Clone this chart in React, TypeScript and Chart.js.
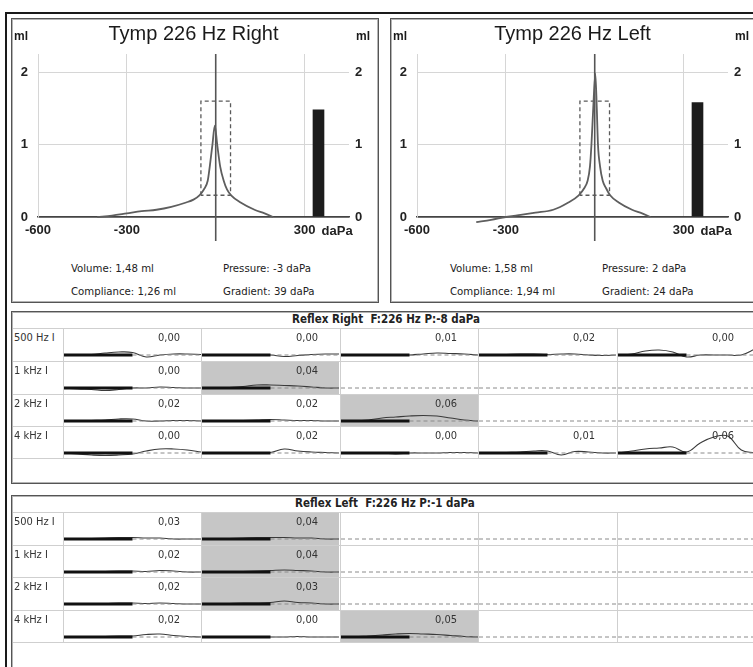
import React, { useEffect, useRef } from 'react';
import { Chart, registerables } from 'chart.js';

Chart.register(...registerables);

const FONT_COND = '"DejaVu Sans Condensed", "DejaVu Sans", sans-serif';
const FONT_ARIAL = '"Liberation Sans", Arial, sans-serif';

// ---------- Tympanogram data ----------
const PRESSURE_TICKS = [-600, -300, 0, 300];
const ML_TICKS = [0, 1, 2];

const RIGHT_PRESSURE = [-400, -350, -300, -250, -200, -150, -100, -75, -55, -40, -27, -20, -11, -3, 5, 15, 27, 38, 52, 84, 131, 165, 194];
const RIGHT_ML = [0, 0.02, 0.05, 0.08, 0.1, 0.14, 0.2, 0.24, 0.3, 0.38, 0.5, 0.7, 1.0, 1.26, 1.0, 0.7, 0.5, 0.38, 0.3, 0.2, 0.1, 0.05, 0];

const LEFT_PRESSURE = [-400, -350, -300, -250, -200, -140, -89, -54, -35, -24, -16, -11, -5, 2, 7, 11, 18, 27, 38, 52, 81, 126, 160, 188];
const LEFT_ML = [-0.07, -0.04, 0, 0.03, 0.06, 0.1, 0.2, 0.3, 0.4, 0.5, 0.7, 1.0, 1.5, 1.98, 1.5, 1.0, 0.7, 0.5, 0.4, 0.3, 0.2, 0.1, 0.05, 0];

const GATE_PRESSURE = [-50, 50];
const GATE_ML = [0.3, 1.6];

const VOLUME_BAR_PRESSURE = 347;
const RIGHT_VOLUME = 1.48;
const LEFT_VOLUME = 1.58;

const RIGHT_STATS = ['Volume: 1,48 ml', 'Pressure: -3 daPa', 'Compliance: 1,26 ml', 'Gradient: 39 daPa'];
const LEFT_STATS = ['Volume: 1,58 ml', 'Pressure: 2 daPa', 'Compliance: 1,94 ml', 'Gradient: 24 daPa'];

// ---------- Reflex data ----------
const REFLEX_FREQS = ['500 Hz I', '1 kHz I', '2 kHz I', '4 kHz I'];
const TRACE_X = [0, 10, 20, 30, 40, 50, 60, 70, 80, 90, 100];

const REFLEX_RIGHT_VALUES = [
  ['0,00', '0,00', '0,01', '0,02', '0,00'],
  ['0,00', '0,04', '', '', ''],
  ['0,02', '0,02', '0,06', '', ''],
  ['0,00', '0,02', '0,00', '0,01', '0,06'],
];
const REFLEX_RIGHT_SHADED = [
  [0, 0, 0, 0, 0],
  [0, 1, 0, 0, 0],
  [0, 0, 1, 0, 0],
  [0, 0, 0, 0, 0],
];
const REFLEX_RIGHT_TRACES = [
  [
    [0, 0, 0.5, 2, 3, 2.5, -2, 0, 1, 1, 0.5],
    [0, 0, 0, 0, 0, 0, -1.5, -0.5, 0.5, 1, 1],
    [0, 0, -0.5, 0, 0, 0, 1, 2, 1.5, 1, 0],
    [0, 0, 0.5, 1, 1, 0.5, 1, 1, 0, -0.5, 0],
    [0, 1, 4, 5, 3, -2, 0, 0, 0, 0, 6],
  ],
  [
    [0, -1, -1.5, -2.5, -1.5, 0, 0, 1, 0.5, 0, 0],
    [0, 0, 0.5, 1.5, 3, 3, 2.5, 2, 1, 0, 0],
    null, null, null,
  ],
  [
    [0, 0, 0.5, 1, 2, 2, 0, 0, 0.5, 0.5, 0],
    [0, 0, 0, 0.5, 1, 1.5, 1, 0.5, 0.5, 0, 0],
    [0, 0, 1, 3, 4, 5, 5.5, 5, 3, 1, 0],
    null, null,
  ],
  [
    [0, -1, -2, -2.5, -2, -1, 2, 4, 4, 3, 1],
    [0, 0, 0, 0, 0, 0.5, 4, 2, 1, 0.5, 0],
    [0, 0, 0, 0, -1, 0, 0, 0, 0.5, 0.5, 0],
    [0, 0, 0.5, 1, 2, 2, -2, 1.5, 1, 0, 0],
    [0, 2, 4, 5, 6, 1, 10, 16, 17, 3, 0],
  ],
];

const REFLEX_LEFT_VALUES = [
  ['0,03', '0,04', '', '', ''],
  ['0,02', '0,04', '', '', ''],
  ['0,02', '0,03', '', '', ''],
  ['0,02', '0,00', '0,05', '', ''],
];
const REFLEX_LEFT_SHADED = [
  [0, 1, 0, 0, 0],
  [0, 1, 0, 0, 0],
  [0, 1, 0, 0, 0],
  [0, 0, 1, 0, 0],
];
const REFLEX_LEFT_TRACES = [
  [[0, 0, 0.5, 1, 1.5, 1.5, 1, 1, 0, 0, 0], [0, 0, 0.5, 1, 1.5, 1.5, 1.5, 1, 1, 0, 0], null, null, null],
  [[0, 0, 0, 0.5, 1, 1, 0.5, 1.5, 1, 0, 0], [0, 0, 0, 0.5, 1, 1.5, 2, 1.5, 1, 0, 0], null, null, null],
  [[0, 0, 0.5, 0.5, 1, 1, 0.5, 1, 0.5, 0, 0], [0, 0, 0.5, 1, 1, 1.5, 3, 1.5, 1, 0, 0], null, null, null],
  [[0, 0, 0, 0.5, 1, 1, 2.5, 3, 1.5, 0.5, 0], [0, 0, 0, 0, 0, 0, 0, 0.5, 0, 0, 0], [0, 0, 1, 2, 3, 3.5, 3, 2.5, 1.5, 0.5, 0], null, null],
];

// ---------- Layout constants ----------
const COL_LEFTS = [63, 201, 340, 478, 617];
const COL_W = 138;
const RIGHT_ROW_TOPS = [328, 361, 394, 426, 458];
const LEFT_ROW_TOPS = [512, 545, 577, 610, 642];
const BASELINE_OFFSET = 26;

function makeTympPlugin(title: string) {
  return {
    id: 'tympDecor',
    beforeDatasetsDraw(chart: any) {
      const { ctx, chartArea, scales } = chart;
      const x0 = scales.x.getPixelForValue(0);
      ctx.save();
      ctx.strokeStyle = '#555';
      ctx.lineWidth = 1.6;
      ctx.beginPath();
      ctx.moveTo(x0, chartArea.top);
      ctx.lineTo(x0, chartArea.bottom + 24);
      ctx.stroke();
      ctx.restore();
    },
    afterDraw(chart: any) {
      const { ctx, chartArea, scales } = chart;
      ctx.save();
      ctx.fillStyle = '#1a1a1a';
      ctx.textBaseline = 'middle';
      ctx.textAlign = 'center';
      ctx.font = `20px ${FONT_ARIAL}`;
      ctx.fillText(title, (chartArea.left + chartArea.right) / 2, 13);
      ctx.font = `bold 12px ${FONT_ARIAL}`;
      ctx.textAlign = 'left';
      ctx.fillText('ml', 0, 16);
      ctx.fillText('ml', chart.width - 22, 16);
      ctx.font = `bold 13px ${FONT_ARIAL}`;
      ctx.fillStyle = '#222';
      ctx.fillText('daPa', scales.x.getPixelForValue(300) + 17, chartArea.bottom + 14);
      ctx.restore();
    },
  };
}

function TympChart({ title, pressures, mls, volume }: { title: string; pressures: number[]; mls: number[]; volume: number }) {
  const ref = useRef<HTMLCanvasElement>(null);
  useEffect(() => {
    const tickFont = { family: FONT_ARIAL, size: 13, weight: 'bold' as const };
    const gate = [
      { x: GATE_PRESSURE[0], y: GATE_ML[0] },
      { x: GATE_PRESSURE[0], y: GATE_ML[1] },
      { x: GATE_PRESSURE[1], y: GATE_ML[1] },
      { x: GATE_PRESSURE[1], y: GATE_ML[0] },
      { x: GATE_PRESSURE[0], y: GATE_ML[0] },
    ];
    const chart = new Chart(ref.current!, {
      type: 'line',
      data: {
        datasets: [
          {
            type: 'line',
            data: pressures.map((p, i) => ({ x: p, y: mls[i] })),
            borderColor: '#5e5e5e',
            borderWidth: 1.8,
            pointRadius: 0,
            cubicInterpolationMode: 'monotone',
            clip: { left: 0, top: 0, right: 0, bottom: 8 } as any,
            order: 1,
          },
          {
            type: 'line',
            data: gate,
            borderColor: '#5a5a5a',
            borderWidth: 1.3,
            borderDash: [4, 3],
            pointRadius: 0,
            tension: 0,
            order: 2,
          },
          {
            type: 'bar',
            data: [{ x: VOLUME_BAR_PRESSURE, y: volume }],
            backgroundColor: '#1c1c1c',
            barThickness: 11,
            order: 3,
          } as any,
        ],
      },
      options: {
        animation: false,
        responsive: false,
        maintainAspectRatio: false,
        events: [],
        layout: { padding: { top: 33, left: 0, right: 0, bottom: 0 } },
        plugins: { legend: { display: false }, tooltip: { enabled: false }, title: { display: false } },
        scales: {
          x: {
            type: 'linear',
            min: -600,
            max: 450,
            offset: false,
            afterBuildTicks: (s: any) => { s.ticks = PRESSURE_TICKS.map((v) => ({ value: v })); },
            afterFit: (s: any) => { s.height = 34; },
            ticks: {
              callback: (v: any) => (v === 0 ? '' : String(v)),
              font: tickFont,
              color: '#222',
              padding: 6,
              maxRotation: 0,
              autoSkip: false,
            },
            grid: {
              offset: false,
              color: (c: any) => (c.tick && c.tick.value === 0 ? 'rgba(0,0,0,0)' : '#d6d6d6'),
              drawTicks: false,
            },
            border: { color: '#444', width: 1.5 },
          },
          y: {
            type: 'linear',
            position: 'left',
            min: 0,
            max: 2.25,
            afterBuildTicks: (s: any) => { s.ticks = ML_TICKS.map((v) => ({ value: v })); },
            afterFit: (s: any) => { s.width = 24; },
            ticks: { font: tickFont, color: '#222', padding: 10 },
            grid: {
              color: (c: any) => (c.tick && c.tick.value === 0 ? '#444' : '#d6d6d6'),
              lineWidth: (c: any) => (c.tick && c.tick.value === 0 ? 1.5 : 1),
              drawTicks: false,
            },
            border: { color: '#d6d6d6' },
          },
          y2: {
            type: 'linear',
            position: 'right',
            min: 0,
            max: 2.25,
            afterBuildTicks: (s: any) => { s.ticks = ML_TICKS.map((v) => ({ value: v })); },
            afterFit: (s: any) => { s.width = 29; },
            ticks: { font: tickFont, color: '#222', padding: 6 },
            grid: { display: false, drawTicks: false },
            border: { display: false },
          },
        },
      } as any,
      plugins: [makeTympPlugin(title)],
    });
    return () => chart.destroy();
  }, [title, pressures, mls, volume]);
  return <canvas ref={ref} width={364} height={230} style={{ position: 'absolute', left: 2, top: 2 }} />;
}

function TympPanel({ left, title, pressures, mls, volume, stats }: any) {
  const statStyle: React.CSSProperties = {
    position: 'absolute',
    fontFamily: FONT_COND,
    fontStretch: 'condensed',
    fontSize: 11.3,
    lineHeight: '13px',
    color: '#222',
    whiteSpace: 'nowrap',
  };
  return (
    <div
      style={{
        position: 'absolute',
        left,
        top: 18,
        width: 368,
        height: 285,
        boxSizing: 'border-box',
        border: '1px solid #555',
        boxShadow: 'inset 0 0 0 1px #b4b4b4',
        background: '#fff',
      }}
    >
      <TympChart title={title} pressures={pressures} mls={mls} volume={volume} />
      <div style={{ ...statStyle, left: 59, top: 243 }}>{stats[0]}</div>
      <div style={{ ...statStyle, left: 211, top: 243 }}>{stats[1]}</div>
      <div style={{ ...statStyle, left: 59, top: 266 }}>{stats[2]}</div>
      <div style={{ ...statStyle, left: 211, top: 266 }}>{stats[3]}</div>
    </div>
  );
}

function ReflexCell({ trace, left, top, width, height }: { trace: number[] | null; left: number; top: number; width: number; height: number }) {
  const ref = useRef<HTMLCanvasElement>(null);
  useEffect(() => {
    const datasets: any[] = [];
    if (trace) {
      datasets.push({ data: [{ x: 0, y: 0 }, { x: 50, y: 0 }], borderColor: '#111', borderWidth: 3, pointRadius: 0 });
      datasets.push({ data: [{ x: 50, y: 0 }, { x: 100, y: 0 }], borderColor: '#8a8a8a', borderWidth: 1, borderDash: [4, 3], pointRadius: 0 });
      datasets.push({ data: TRACE_X.map((x, i) => ({ x, y: trace[i] })), borderColor: '#3a3a3a', borderWidth: 1.1, pointRadius: 0, tension: 0.4 });
    } else {
      datasets.push({ data: [{ x: 0, y: 0 }, { x: 100, y: 0 }], borderColor: '#8a8a8a', borderWidth: 1, borderDash: [4, 3], pointRadius: 0 });
    }
    const chart = new Chart(ref.current!, {
      type: 'line',
      data: { datasets },
      options: {
        animation: false,
        responsive: false,
        maintainAspectRatio: false,
        events: [],
        layout: { padding: 0 },
        plugins: { legend: { display: false }, tooltip: { enabled: false } },
        scales: {
          x: { type: 'linear', display: false, min: 0, max: 100 },
          y: { type: 'linear', display: false, min: -(height - BASELINE_OFFSET), max: BASELINE_OFFSET },
        },
      } as any,
    });
    return () => chart.destroy();
  }, [trace, height]);
  return <canvas ref={ref} width={width} height={height} style={{ position: 'absolute', left, top }} />;
}

function ReflexPanel({ top, height, title, titleLeft, rowTops, values, shaded, traces }: any) {
  const items: React.ReactNode[] = [];
  const textStyle: React.CSSProperties = {
    position: 'absolute',
    fontFamily: FONT_COND,
    fontStretch: 'condensed',
    fontSize: 11,
    lineHeight: '13px',
    color: '#333',
    whiteSpace: 'pre',
  };
  for (let r = 0; r < 4; r++) {
    const rt = rowTops[r];
    const rh = rowTops[r + 1] - rt;
    items.push(
      <div key={`lab${r}`} style={{ ...textStyle, left: 14, top: rt + 3 }}>{REFLEX_FREQS[r]}</div>
    );
    for (let c = 0; c < 5; c++) {
      const cl = COL_LEFTS[c];
      if (shaded[r][c]) {
        items.push(
          <div key={`sh${r}-${c}`} style={{ position: 'absolute', left: cl + 1, top: rt + 1, width: COL_W - 1, height: rh - 1, background: '#c6c6c6' }} />
        );
      }
      items.push(
        <ReflexCell key={`cell${r}-${c}`} trace={traces[r][c]} left={cl + 1} top={rt + 1} width={COL_W - 1} height={rh - 1} />
      );
      if (values[r][c]) {
        items.push(
          <div key={`v${r}-${c}`} style={{ ...textStyle, left: cl, width: 117, textAlign: 'right', top: rt + 3 }}>{values[r][c]}</div>
        );
      }
    }
  }
  rowTops.forEach((y: number, i: number) => {
    items.push(<div key={`h${i}`} style={{ position: 'absolute', left: 13, top: y, width: 760, height: 1, background: '#cfcfcf' }} />);
  });
  COL_LEFTS.forEach((x, i) => {
    items.push(
      <div key={`vl${i}`} style={{ position: 'absolute', left: x, top: rowTops[0], width: 1, height: rowTops[4] - rowTops[0], background: '#cfcfcf' }} />
    );
  });
  return (
    <>
      <div
        style={{
          position: 'absolute',
          left: 11,
          top,
          width: 770,
          height,
          boxSizing: 'border-box',
          border: '1px solid #555',
          boxShadow: 'inset 0 0 0 1px #b4b4b4',
          background: '#fff',
        }}
      />
      <div style={{ ...textStyle, fontSize: 11.5, fontWeight: 'bold', color: '#222', left: titleLeft, top: top + 2 }}>{title}</div>
      {items}
    </>
  );
}

export default function App() {
  return (
    <div style={{ position: 'fixed', left: 0, top: 0, width: 753, height: 667, overflow: 'hidden', background: '#fff' }}>
      <div
        style={{
          position: 'absolute',
          left: 5,
          top: 12,
          width: 800,
          height: 720,
          boxSizing: 'border-box',
          border: '2px solid #1a1a1a',
        }}
      />
      <TympPanel left={11} title="Tymp 226 Hz Right" pressures={RIGHT_PRESSURE} mls={RIGHT_ML} volume={RIGHT_VOLUME} stats={RIGHT_STATS} />
      <TympPanel left={390} title="Tymp 226 Hz Left" pressures={LEFT_PRESSURE} mls={LEFT_ML} volume={LEFT_VOLUME} stats={LEFT_STATS} />
      <ReflexPanel
        top={311}
        height={173}
        title="Reflex Right  F:226 Hz P:-8 daPa"
        titleLeft={292}
        rowTops={RIGHT_ROW_TOPS}
        values={REFLEX_RIGHT_VALUES}
        shaded={REFLEX_RIGHT_SHADED}
        traces={REFLEX_RIGHT_TRACES}
      />
      <ReflexPanel
        top={495}
        height={200}
        title="Reflex Left  F:226 Hz P:-1 daPa"
        titleLeft={295}
        rowTops={LEFT_ROW_TOPS}
        values={REFLEX_LEFT_VALUES}
        shaded={REFLEX_LEFT_SHADED}
        traces={REFLEX_LEFT_TRACES}
      />
    </div>
  );
}
